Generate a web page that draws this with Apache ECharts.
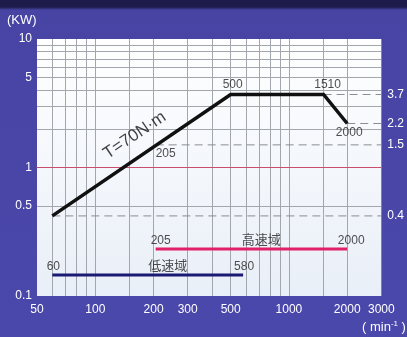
<!DOCTYPE html>
<html>
<head>
<meta charset="utf-8">
<script src="https://cdn.jsdelivr.net/npm/echarts@6/dist/echarts.min.js"></script>
<style>
  html, body { margin: 0; padding: 0; }
  #main {
    width: 407px; height: 337px;
    background: linear-gradient(#1c1b4a 0px, #1c1b4a 7px, #4744a4 10px, #4b48ac 100%);
  }
</style>
</head>
<body>
<div id="main"></div>
<script>
// axis ranges (log-log)
const xMin = 50, xMax = 3000;
const yMin = 0.1, yMax = 10;
const xLabelValues = [50, 100, 200, 300, 500, 1000, 2000, 3000];
const xGridValues = [60, 70, 80, 90, 100, 150, 200, 300, 400, 500, 600, 700, 800, 900, 1000, 1500, 2000];
const yLabelValues = [10, 5, 1, 0.5, 0.1];
const yGridValues = [9, 8, 7, 6, 5, 4, 3, 2, 1, 0.5];
const rightTickValues = [3.7, 2.2, 1.5, 0.42];
const rightTickLabels = ['3.7', '2.2', '1.5', '0.4'];

// T=70N·m output curve
const torqueCurve = [[60, 0.42], [500, 3.7], [1510, 3.7], [2000, 2.2]];
// dashed reference lines: start point, run to xMax
const refStarts = [[1510, 3.7], [2000, 2.2], [205, 1.5], [60, 0.42]];
// speed ranges
const highBand = [[205, 0.232], [2000, 0.232]];
const lowBand = [[60, 0.146], [580, 0.146]];
const highBandName = '高速域', highBandNameX = 720;
const lowBandName = '低速域', lowBandNameX = 237;

const L = Math.log10;
const toLog = p => [L(p[0]), L(p[1])];
const fmt = v => String(parseFloat(Math.pow(10, v).toPrecision(3)));
const FONT = "'Liberation Sans', Arial, 'Noto Sans CJK JP', sans-serif";

const chart = echarts.init(document.getElementById('main'));

const lbl = (extra) => Object.assign({
  show: true, color: '#222', fontSize: 12, fontFamily: FONT
}, extra);

const series = [];

refStarts.forEach(p => {
  series.push({
    type: 'line', silent: true, symbol: 'none', z: 1,
    lineStyle: {color: '#8a8d94', width: 1, type: [8, 5]},
    data: [toLog(p), [L(xMax), L(p[1])]]
  });
});

series.push({
  name: 'T=70N·m', type: 'line', symbol: 'none', z: 5,
  lineStyle: {color: '#111', width: 3.5, cap: 'butt', join: 'miter'},
  data: torqueCurve.map(toLog)
});

series.push({
  type: 'line', symbol: 'none', z: 4,
  lineStyle: {color: '#e0206a', width: 3},
  data: highBand.map(toLog)
});
series.push({
  type: 'line', symbol: 'none', z: 4,
  lineStyle: {color: '#1b1a72', width: 3},
  data: lowBand.map(toLog)
});

// text labels anchored to data points
series.push({
  type: 'scatter', symbolSize: 0, silent: true, z: 6,
  data: [
    {value: toLog(torqueCurve[1]), label: lbl({position: 'top', distance: 4, offset: [2, 0]})},
    {value: toLog(torqueCurve[2]), label: lbl({position: 'top', distance: 4, offset: [4, 0]})},
    {value: toLog(torqueCurve[3]), label: lbl({position: 'bottom', distance: 3, offset: [2, 0]})},
    {value: toLog(refStarts[2]), label: lbl({position: 'bottom', distance: 3, offset: [10, 0], formatter: '205'})},
    {value: toLog(highBand[0]), label: lbl({position: 'top', distance: 2, offset: [5, 0], formatter: '205'})},
    {value: [L(highBandNameX), L(highBand[0][1])], label: lbl({position: 'top', distance: 2, fontSize: 13, formatter: highBandName})},
    {value: toLog(highBand[1]), label: lbl({position: 'top', distance: 2, offset: [4, 0], formatter: '2000'})},
    {value: toLog(lowBand[0]), label: lbl({position: 'top', distance: 2, offset: [1, 0], formatter: '60'})},
    {value: [L(lowBandNameX), L(lowBand[0][1])], label: lbl({position: 'top', distance: 2, fontSize: 13, formatter: lowBandName})},
    {value: toLog(lowBand[1]), label: lbl({position: 'top', distance: 2, offset: [1, 0], formatter: '580'})},
    {value: [L(160), L(1.78)], label: lbl({position: 'inside', rotate: 34, fontSize: 17, color: '#111', formatter: 'T=70N·m'})}
  ],
  label: {
    formatter: p => fmt(p.value[0])
  }
});

const option = {
  animation: false,
  backgroundColor: 'transparent',
  textStyle: {fontFamily: FONT},
  grid: {
    left: 37, top: 39, right: 25, bottom: 41,
    show: true, borderWidth: 0,
    backgroundColor: {
      type: 'linear', x: 0, y: 0, x2: 0, y2: 1,
      colorStops: [{offset: 0, color: '#ffffff'}, {offset: 1, color: '#e9eff8'}]
    }
  },
  xAxis: {
    type: 'value', min: L(xMin), max: L(xMax),
    axisLine: {show: true, lineStyle: {color: '#c8506e', width: 1}},
    axisTick: {show: false, customValues: xGridValues.map(L)},
    splitLine: {show: true, lineStyle: {color: '#a2a6ad', width: 1}},
    axisLabel: {
      customValues: xLabelValues.map(L), formatter: fmt,
      color: '#fff', fontSize: 12, margin: 8, fontFamily: FONT
    }
  },
  yAxis: [{
    type: 'value', min: L(yMin), max: L(yMax),
    axisLine: {show: false},
    axisTick: {show: false, customValues: yGridValues.map(L)},
    splitLine: {show: true, lineStyle: {color: '#a2a6ad', width: 1}},
    axisLabel: {
      customValues: yLabelValues.map(L), formatter: fmt,
      color: '#fff', fontSize: 12, margin: 5, fontFamily: FONT
    }
  }, {
    type: 'value', position: 'right', min: L(yMin), max: L(yMax),
    axisLine: {show: false}, axisTick: {show: false}, splitLine: {show: false},
    axisLabel: {
      customValues: rightTickValues.map(L),
      formatter: v => {
        const i = rightTickValues.findIndex(t => Math.abs(L(t) - v) < 1e-6);
        return i >= 0 ? rightTickLabels[i] : '';
      },
      color: '#fff', fontSize: 12, margin: 6, fontFamily: FONT
    }
  }],
  graphic: [
    {type: 'text', left: 7, top: 14, style: {text: '(KW)', fill: '#fff', font: '13px ' + FONT}},
    {type: 'text', left: 362, top: 320, style: {
      text: '( min{s|-1} )', fill: '#fff', font: '13px ' + FONT,
      rich: {s: {fontSize: 8, verticalAlign: 'top', padding: [0, 0, 7, 0], fill: '#fff'}}
    }}
  ],
  series: series
};

chart.setOption(option);
</script>
</body>
</html>
